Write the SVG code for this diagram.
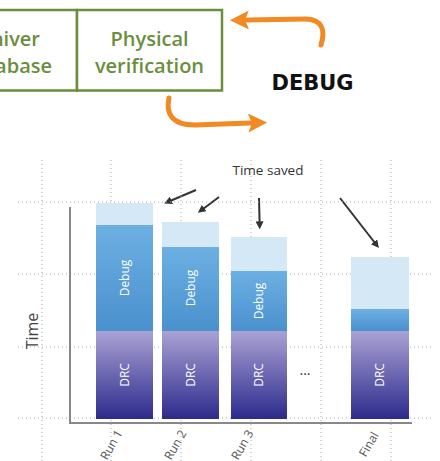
<svg xmlns="http://www.w3.org/2000/svg" width="440" height="461" viewBox="0 0 440 461">
<style>
.box{fill:#fff;stroke:#6a8e3a;stroke-width:2.5}
.gtxt{font-family:"Open Sans","DejaVu Sans",sans-serif;font-weight:600;font-size:20px;fill:#6b8e3e}
.orange{fill:none;stroke:#f18a22;stroke-width:5;stroke-linecap:round}
.grid{stroke:#a8a8a8;stroke-width:1;stroke-dasharray:1 3;fill:none}
.axis{stroke:#888;stroke-width:2;fill:none}
.light{fill:#d5e8f6}
.dbg{fill:url(#gDebug)}
.drc{fill:url(#gDrc)}
.wt{font-family:"Open Sans","DejaVu Sans",sans-serif;font-size:12px;fill:#fff;text-anchor:middle}
.lbl{font-family:"Open Sans","DejaVu Sans",sans-serif;font-size:12px;fill:#555;text-anchor:end}
.blk{stroke:#333;stroke-width:2;fill:none}
</style>
<defs>
<linearGradient id="gDebug" x1="0" y1="0" x2="0" y2="1">
<stop offset="0" stop-color="#6cb0e3"/><stop offset="1" stop-color="#4a90cd"/>
</linearGradient>
<linearGradient id="gDrc" x1="0" y1="0" x2="0" y2="1">
<stop offset="0" stop-color="#aaa2d4"/><stop offset="1" stop-color="#2c2a8c"/>
</linearGradient>
<marker id="oHead" viewBox="0 0 20 20" refX="2" refY="10" markerWidth="20" markerHeight="19" markerUnits="userSpaceOnUse" orient="auto">
<path d="M0,0 L20,10 L0,20 L4,10 z" fill="#f18a22"/>
</marker>
<marker id="kHead" viewBox="0 0 10 10" refX="2" refY="5" markerWidth="8" markerHeight="8" markerUnits="userSpaceOnUse" orient="auto">
<path d="M0,0 L10,5 L0,10 z" fill="#333"/>
</marker>
</defs>

<g id="box-left">
<rect class="box" x="-80" y="10" width="157" height="80.5"/>
<text class="gtxt" x="40" y="46" text-anchor="end">niver</text>
<text class="gtxt" x="52" y="73" text-anchor="end">abase</text>
</g>
<g id="box-physical">
<rect class="box" x="77" y="10" width="145" height="80.5"/>
<text class="gtxt" x="149.5" y="46" text-anchor="middle">Physical</text>
<text class="gtxt" x="149.5" y="73" text-anchor="middle">verification</text>
</g>
<g id="debug-label">
<text x="312.5" y="90" text-anchor="middle" font-family="DejaVu Sans, sans-serif" font-weight="bold" font-size="21px" fill="#111">DEBUG</text>
</g>

<g id="connectors">
<path class="orange" d="M321,45 C325,32 324,19 305,19 L247,20" marker-end="url(#oHead)"/>
<path class="orange" d="M169,98 C166,112 170,125 195,125 L250,123" marker-end="url(#oHead)"/>
<path class="blk" d="M196,190 L170,201" marker-end="url(#kHead)"/>
<path class="blk" d="M219,197 L203,209" marker-end="url(#kHead)"/>
<path class="blk" d="M259,198 L259.6,223" marker-end="url(#kHead)"/>
<path class="blk" d="M340,198 L375,243" marker-end="url(#kHead)"/>
</g>

<g id="grid">
<path class="grid" d="M42,160 V461 M111,160 V461 M181,160 V461 M251,160 V461 M321,160 V461 M391,160 V461"/>
<path class="grid" d="M18,202 H433 M18,274 H433 M18,347 H433 M18,418 H433"/>
</g>

<g id="bar-run1">
<rect class="light" x="96" y="203" width="57" height="22"/>
<rect class="dbg" x="96" y="225" width="57" height="106"/>
<rect class="drc" x="96" y="331" width="57" height="88"/>
<text class="wt" transform="translate(129,278) rotate(-90)">Debug</text>
<text class="wt" transform="translate(129,375) rotate(-90)">DRC</text>
</g>
<g id="bar-run2">
<rect class="light" x="162" y="222" width="57" height="25"/>
<rect class="dbg" x="162" y="247" width="57" height="84"/>
<rect class="drc" x="162" y="331" width="57" height="88"/>
<text class="wt" transform="translate(195,288) rotate(-90)">Debug</text>
<text class="wt" transform="translate(195,375) rotate(-90)">DRC</text>
</g>
<g id="bar-run3">
<rect class="light" x="231" y="237" width="56" height="34"/>
<rect class="dbg" x="231" y="271" width="56" height="60"/>
<rect class="drc" x="231" y="331" width="56" height="88"/>
<text class="wt" transform="translate(263,301) rotate(-90)">Debug</text>
<text class="wt" transform="translate(263,375) rotate(-90)">DRC</text>
</g>
<g id="bar-final">
<rect class="light" x="351" y="257" width="58" height="52"/>
<rect class="dbg" x="351" y="309" width="58" height="22"/>
<rect class="drc" x="351" y="331" width="58" height="88"/>
<text class="wt" transform="translate(384,375) rotate(-90)">DRC</text>
</g>

<g id="axes">
<path class="axis" d="M70,207 V423 H412"/>
</g>

<g id="labels">
<text x="268" y="175" text-anchor="middle" font-family="Open Sans, DejaVu Sans, sans-serif" font-size="13.5px" fill="#333">Time saved</text>
<text transform="translate(38,331) rotate(-90)" text-anchor="middle" font-family="Open Sans, DejaVu Sans, sans-serif" font-size="16px" fill="#444">Time</text>
<text x="305" y="375" text-anchor="middle" font-family="Open Sans, DejaVu Sans, sans-serif" font-size="14px" fill="#333">...</text>
<text class="lbl" transform="translate(123,433) rotate(-60)">Run 1</text>
<text class="lbl" transform="translate(187,433) rotate(-60)">Run 2</text>
<text class="lbl" transform="translate(254,433) rotate(-60)">Run 3</text>
<text class="lbl" transform="translate(379,435) rotate(-60)">Final</text>
</g>
</svg>
